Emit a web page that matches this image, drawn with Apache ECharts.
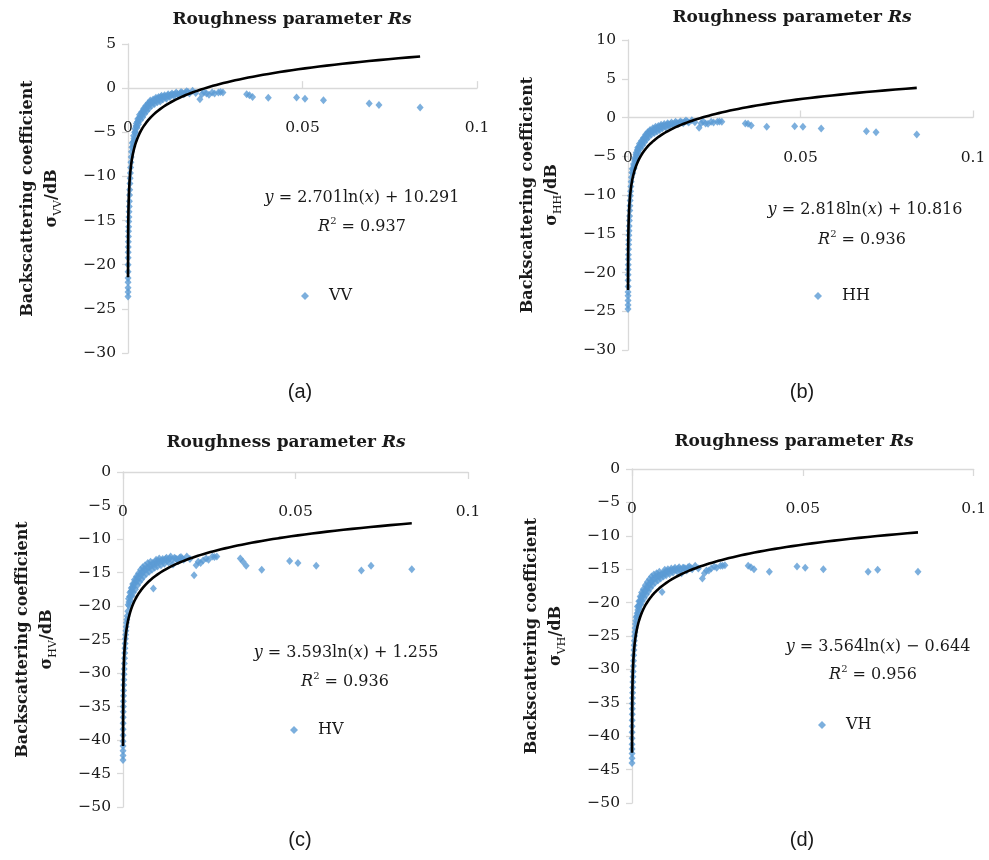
<!DOCTYPE html>
<html>
<head>
<meta charset="utf-8">
<script src="https://cdn.jsdelivr.net/npm/echarts@6/dist/echarts.min.js"></script>
<style>html,body{margin:0;padding:0;background:#fff}#c{width:989px;height:860px}</style>
</head>
<body>
<div id="c"></div>
<script>
// ---- data ----
const xRs = [
  0.000008,0.00001,0.000013,0.000017,0.000022,0.000028,0.000035,0.000045,0.00006,0.00008,
  0.0001,0.00012,0.00015,0.00018,0.00022,0.00026,0.0003,0.00035,0.0004,0.00045,
  0.0005,0.00056,0.00062,0.00069,0.00076,0.00084,0.00092,0.001,0.0011,0.0012,
  0.0014,0.0016,0.0018,0.002,0.0022,0.0024,0.0026,0.0028,0.003,0.0033,
  0.0036,0.0039,0.0042,0.0045,0.0048,0.0051,0.0054,0.0057,0.006,0.0064,
  0.0068,0.0072,0.0076,0.008,0.0084,0.0088,0.0092,0.0096,0.0100,0.0105,
  0.011,0.0115,0.012,0.0126,0.0132,0.0138,0.0145,0.0152,0.016,0.0168,
  0.0176,0.0185,0.0194,0.0212,0.0218,0.0232,0.0241,0.0248,0.0265,0.0272,
  0.0206,0.0225,0.0259,0.0340,0.0348,0.0357,0.0402,0.0483,0.0507,0.0560,0.0691,0.0719,0.0837,
  0.0015,0.0017,0.0019,0.0021,0.0023,0.0025,0.0027,0.0029,0.0031,0.0035,
  0.0038,0.0041,0.0044,0.0047,0.005,0.0053,0.0056,0.0059,0.0062,0.0066,
  0.007,0.0074,0.0078,0.0082,0.0086,0.009,0.0094,0.0098,0.0103,0.0108,
  0.0113,0.0118,0.0123,0.0129,0.0135,0.0142,0.0149,0.0156,0.0164,0.0172
];
const yVV = [
  -23.6,-23.1,-22.6,-22.0,-21.5,-20.8,-20.0,-19.2,-18.6,-18.0,
  -17.4,-16.8,-16.2,-15.7,-15.1,-14.6,-14.0,-13.4,-12.8,-12.1,
  -11.5,-10.8,-10.2,-9.6,-9.0,-8.4,-7.8,-7.2,-6.7,-6.2,
  -6.6,-5.4,-5.9,-4.6,-5.1,-4.0,-4.5,-3.5,-4.1,-3.0,
  -3.6,-2.7,-3.3,-2.3,-2.9,-2.0,-2.6,-1.7,-2.3,-1.4,
  -2.0,-1.3,-1.8,-1.1,-1.6,-1.0,-1.5,-0.85,-1.3,-0.8,
  -1.2,-0.7,-1.0,-0.6,-0.9,-0.5,-0.8,-0.45,-0.7,-0.35,
  -0.6,-0.3,-0.55,-0.7,-0.45,-0.75,-0.5,-0.6,-0.45,-0.5,
  -1.25,-0.6,-0.5,-0.7,-0.8,-1.0,-1.1,-1.05,-1.2,-1.36,-1.73,-1.9,-2.2,
  -6.1,-5.7,-5.0,-4.9,-4.3,-4.3,-3.8,-3.8,-3.4,-3.3,
  -2.9,-3.0,-2.5,-2.6,-2.2,-2.3,-1.9,-2.0,-1.6,-1.7,
  -1.5,-1.55,-1.3,-1.35,-1.15,-1.25,-1.0,-1.1,-0.95,-1.0,
  -0.85,-0.85,-0.75,-0.75,-0.65,-0.65,-0.6,-0.55,-0.5,-0.45
];
const yHH = [
  -24.7,-24.2,-23.6,-23.0,-22.5,-21.8,-21.0,-20.3,-19.6,-19.0,
  -18.3,-17.7,-17.0,-16.4,-15.8,-15.2,-14.6,-14.0,-13.3,-12.7,
  -12.0,-11.4,-10.7,-10.1,-9.5,-8.9,-8.3,-7.7,-7.1,-6.6,
  -7.2,-6.0,-6.5,-5.2,-5.6,-4.5,-5.0,-3.9,-4.5,-3.4,
  -4.0,-3.0,-3.6,-2.6,-3.2,-2.2,-2.8,-1.9,-2.5,-1.6,
  -2.2,-1.4,-2.0,-1.2,-1.8,-1.1,-1.6,-0.95,-1.4,-0.85,
  -1.3,-0.75,-1.1,-0.65,-1.0,-0.55,-0.85,-0.5,-0.75,-0.4,
  -0.65,-0.35,-0.6,-0.75,-0.5,-0.8,-0.55,-0.65,-0.5,-0.55,
  -1.33,-0.77,-0.55,-0.77,-0.8,-1.03,-1.2,-1.12,-1.2,-1.42,-1.76,-1.9,-2.2,
  -6.7,-6.2,-5.6,-5.4,-4.8,-4.7,-4.2,-4.2,-3.8,-3.7,
  -3.3,-3.3,-2.8,-2.9,-2.5,-2.5,-2.1,-2.2,-1.8,-1.9,
  -1.7,-1.7,-1.45,-1.5,-1.3,-1.4,-1.15,-1.2,-1.05,-1.1,
  -0.95,-0.95,-0.85,-0.85,-0.75,-0.7,-0.65,-0.6,-0.55,-0.5
];
const yHV = [
  -43.0,-42.3,-41.6,-40.9,-40.2,-39.3,-38.4,-37.5,-36.6,-35.8,
  -35.0,-34.2,-33.4,-32.6,-31.8,-31.0,-30.2,-29.4,-28.6,-27.8,
  -27.0,-26.3,-25.6,-24.9,-24.3,-23.7,-23.1,-22.5,-22.0,-21.5,
  -20.8,-18.9,-20.0,-18.0,-19.2,-17.3,-18.5,-16.7,-18.0,-16.1,
  -17.5,-15.6,-16.9,-15.1,-16.4,-14.6,-16.0,-14.2,-15.6,-13.9,
  -15.2,-13.6,-14.9,-13.4,-14.6,-17.4,-14.3,-13.1,-14.1,-12.9,
  -13.9,-13.0,-13.7,-12.8,-13.5,-12.6,-13.8,-12.9,-13.3,-12.7,
  -13.1,-12.6,-13.0,-13.9,-13.4,-13.2,-12.9,-13.1,-12.7,-12.6,
  -15.4,-13.6,-12.6,-12.9,-13.4,-14.0,-14.6,-13.3,-13.6,-14.0,-14.7,-14.0,-14.5,
  -19.8,-19.4,-18.6,-18.6,-17.8,-17.9,-17.2,-17.3,-16.7,-16.6,
  -16.1,-16.2,-15.6,-15.7,-15.2,-15.3,-14.8,-14.9,-14.5,-14.6,
  -14.2,-14.3,-13.9,-14.0,-13.6,-13.8,-13.4,-13.6,-13.3,-13.4,
  -13.2,-13.3,-13.0,-13.2,-12.9,-13.1,-12.8,-13.0,-12.8,-12.9
];
const yVH = [
  -44.0,-43.3,-42.6,-41.9,-41.2,-40.3,-39.4,-38.5,-37.6,-36.7,
  -35.9,-35.1,-34.3,-33.5,-32.7,-31.9,-31.1,-30.3,-29.5,-28.7,
  -27.9,-27.1,-26.4,-25.7,-25.0,-24.4,-23.8,-23.2,-22.7,-22.2,
  -22.0,-20.6,-21.5,-19.8,-20.9,-19.1,-20.3,-18.5,-19.8,-18.0,
  -19.3,-17.4,-18.8,-16.9,-18.3,-16.5,-17.8,-16.1,-17.4,-15.8,
  -17.0,-15.6,-16.7,-15.4,-16.4,-18.4,-16.1,-15.1,-15.9,-15.0,
  -15.7,-14.9,-15.5,-14.8,-15.3,-14.7,-15.6,-14.8,-15.2,-14.6,
  -15.0,-14.5,-14.9,-15.6,-15.2,-14.9,-14.6,-14.8,-14.5,-14.4,
  -16.4,-15.2,-14.5,-14.5,-14.7,-15.0,-15.4,-14.6,-14.8,-15.0,-15.4,-15.1,-15.4,
  -21.6,-21.1,-20.5,-20.4,-19.8,-19.8,-19.2,-19.2,-18.7,-18.7,
  -18.1,-18.2,-17.6,-17.7,-17.2,-17.2,-16.8,-16.8,-16.4,-16.4,
  -16.1,-16.2,-15.9,-16.0,-15.7,-15.8,-15.5,-15.6,-15.3,-15.4,
  -15.2,-15.2,-15.0,-15.1,-14.9,-15.0,-14.8,-14.9,-14.7,-14.8
];
// trend-line coefficients shown in the figure: y = a ln(x) + b
const fitA = [2.701, 2.818, 3.593, 3.564];
const fitB = [10.291, 10.816, 1.255, -0.644];
const r2Text = ['0.937', '0.936', '0.936', '0.956'];
const polNames = ['VV', 'HH', 'HV', 'VH'];
const panelTags = ['(a)', '(b)', '(c)', '(d)'];
const xTicks = [0, 0.05, 0.1];
const yRanges = [[-30, 5], [-30, 10], [-50, 0], [-50, 0]];
const yStep = 5;

// ---- layout ----
const SERIF = 'DejaVu Serif';
const TXT = '#1a1a1a';
const BLUE = '#5B9BD5';
const grids = [
  {left: 128, top: 44, width: 349, height: 309},
  {left: 628, top: 40, width: 345, height: 310},
  {left: 123, top: 472, width: 345, height: 335},
  {left: 632, top: 469, width: 344, height: 334}
];
const titlePos = [[292, 20], [792, 18], [286, 443], [794, 442]];
const eqPos = [[362, 198], [865, 210], [346, 653], [878, 647]];
const r2Pos = [[362, 227], [862, 240], [345, 682], [873, 675]];
const legPos = [[301, 288], [814, 288], [290, 722], [818, 717]];
const capPos = [[300, 392], [802, 392], [300, 840], [802, 840]];

const ySeriesList = [yVV, yHH, yHV, yVH];
const minus = v => v < 0 ? '\u2212' + Math.abs(v) : String(v);

const xAxes = [], yAxes = [], series = [], legends = [], graphics = [];
const richBase = {
  t: {fontFamily: SERIF, fontSize: 16, fontWeight: 'bold', color: TXT, lineHeight: 24},
  s: {fontFamily: SERIF, fontSize: 11, color: TXT, lineHeight: 12, verticalAlign: 'bottom'}
};
for (let i = 0; i < 4; i++) {
  const p = polNames[i];
  const [ymin, ymax] = yRanges[i];
  // x axis sits on the y = 0 line
  const zeroOffset = -grids[i].height * (0 - ymin) / (ymax - ymin);
  xAxes.push({
    gridIndex: i, type: 'value', min: 0, max: 0.1, interval: 0.05,
    position: 'bottom', offset: zeroOffset,
    axisLine: {onZero: false, lineStyle: {color: '#d9d9d9', width: 1.3}},
    axisTick: {show: true, inside: i < 2, length: 7, lineStyle: {color: '#d9d9d9', width: 1.3}},
    axisLabel: {margin: 32, fontFamily: SERIF, fontSize: 15.5, color: TXT,
      formatter: v => (xTicks.indexOf(v) >= 0 ? String(v) : '')},
    splitLine: {show: false}
  });
  yAxes.push({
    gridIndex: i, type: 'value', min: ymin, max: ymax, interval: yStep,
    axisLine: {show: true, onZero: false, lineStyle: {color: '#d9d9d9', width: 1.3}},
    axisTick: {show: true, length: 6, lineStyle: {color: '#d9d9d9', width: 1.3}},
    axisLabel: {margin: 12, fontFamily: SERIF, fontSize: 15.5, color: TXT, formatter: minus},
    splitLine: {show: false},
    name: '{t|Backscattering coefficient}\n{t|\u03c3}{s|' + p + '}{t|/dB}',
    nameLocation: 'middle', nameRotate: 90, nameGap: 64,
    nameTextStyle: {rich: richBase, align: 'center'}
  });
  const pts = xRs.map((x, k) => [x, ySeriesList[i][k]]);
  series.push({
    name: p, type: 'scatter', xAxisIndex: i, yAxisIndex: i, data: pts,
    symbol: 'diamond', symbolSize: [7, 8], itemStyle: {color: BLUE}, z: 2, silent: true
  });
  // trend line sampled from its equation over the data range
  const xmin = Math.min(...xRs), xmax = Math.max(...xRs);
  const tl = [];
  const N = 240;
  for (let k = 0; k <= N; k++) {
    const x = Math.exp(Math.log(xmin) + (Math.log(xmax) - Math.log(xmin)) * k / N);
    tl.push([x, fitA[i] * Math.log(x) + fitB[i]]);
  }
  series.push({
    name: 'trend' + p, type: 'line', xAxisIndex: i, yAxisIndex: i, data: tl,
    showSymbol: false, symbol: 'none', smooth: false,
    lineStyle: {color: '#000', width: 2.6}, z: 3, silent: true
  });
  legends.push({
    data: [{name: p, icon: 'diamond'}], left: legPos[i][0], top: legPos[i][1],
    padding: 0, itemWidth: 8, itemHeight: 8,
    textStyle: {fontFamily: SERIF, fontSize: 16, color: TXT, padding: [0, 0, 0, 15]},
    selectedMode: false
  });
  graphics.push({
    type: 'text', x: titlePos[i][0], y: titlePos[i][1],
    style: {text: '{b|Roughness parameter }{bi|Rs}', align: 'center', verticalAlign: 'middle',
      rich: {
        b: {fontFamily: SERIF, fontSize: 17, fontWeight: 'bold', fill: TXT, color: TXT},
        bi: {fontFamily: SERIF, fontSize: 17, fontWeight: 'bold', fontStyle: 'italic', fill: TXT, color: TXT}
      }}
  });
  const b = fitB[i];
  const eq = '{i|y}{n| = ' + fitA[i].toFixed(3) + 'ln(}{i|x}{n|) ' + (b < 0 ? '\u2212 ' : '+ ') + Math.abs(b).toFixed(3) + '}';
  const rEq = {
    n: {fontFamily: SERIF, fontSize: 16, fill: TXT, color: TXT, lineHeight: 22},
    i: {fontFamily: SERIF, fontSize: 16, fontStyle: 'italic', fill: TXT, color: TXT, lineHeight: 22},
    sup: {fontFamily: SERIF, fontSize: 10, fill: TXT, color: TXT, lineHeight: 10, verticalAlign: 'top'}
  };
  graphics.push({type: 'text', x: eqPos[i][0], y: eqPos[i][1],
    style: {text: eq, align: 'center', verticalAlign: 'middle', rich: rEq}});
  graphics.push({type: 'text', x: r2Pos[i][0], y: r2Pos[i][1],
    style: {text: '{i|R}{sup|2}{n| = ' + r2Text[i] + '}', align: 'center', verticalAlign: 'middle', rich: rEq}});
  graphics.push({type: 'text', x: capPos[i][0], y: capPos[i][1],
    style: {text: panelTags[i], align: 'center', verticalAlign: 'middle',
      font: '20px "Liberation Sans"', fill: TXT}});
}

const chart = echarts.init(document.getElementById('c'), null, {renderer: 'canvas'});
chart.setOption({
  animation: false,
  backgroundColor: '#fff',
  grid: grids,
  xAxis: xAxes,
  yAxis: yAxes,
  legend: legends,
  series: series,
  graphic: graphics
});
</script>
</body>
</html>
